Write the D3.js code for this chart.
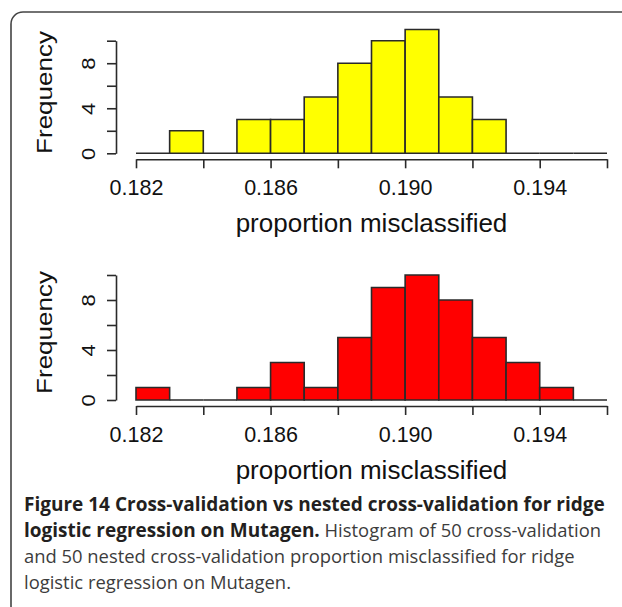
<!DOCTYPE html>
<html><head><meta charset="utf-8">
<script src="https://cdn.jsdelivr.net/npm/d3@7"></script>
<style>body{margin:0;background:#fff} svg{display:block}</style></head>
<body>
<svg id="c" width="622" height="607"></svg>
<script>
// ---- data ----
const binEdges = [0.182,0.183,0.184,0.185,0.186,0.187,0.188,0.189,0.190,0.191,0.192,0.193,0.194,0.195,0.196];
const cvCounts = [0,2,0,3,3,5,8,10,11,5,3,0,0,0];
const nestedCounts = [1,0,0,1,3,1,5,9,10,8,5,3,1,0];
const xTicks = [0.182,0.184,0.186,0.188,0.190,0.192,0.194,0.196];
const xTickLabels = ["0.182","","0.186","","0.190","","0.194",""];
const yTicks = [0,2,4,6,8,10];
const yTickLabels = ["0","","4","","8",""];
const xLabel = "proportion misclassified";
const yLabel = "Frequency";
const captionLines = [
  [["Figure 14 Cross-validation vs nested cross-validation for ridge", true]],
  [["logistic regression on Mutagen.", true], [" Histogram of 50 cross-validation", false]],
  [["and 50 nested cross-validation proportion misclassified for ridge", false]],
  [["logistic regression on Mutagen.", false]]
];

// ---- drawing ----
const svg = d3.select("#c");
svg.append("rect").attr("x",11).attr("y",12).attr("width",640).attr("height",606)
  .attr("rx",12).attr("fill","none").attr("stroke","#444").attr("stroke-width",1.6);

const x = d3.scaleLinear().domain([0.182,0.196]).range([136,607]);
const panels = [
  {counts: cvCounts, fill: "#ffff00", y0: 153.3, y10: 40.7},
  {counts: nestedCounts, fill: "#ff0000", y0: 400, y10: 275}
];
const axisFont = "'Liberation Sans', Arial, sans-serif";
const ink = "#2a2a2a";

panels.forEach(p => {
  const y = d3.scaleLinear().domain([0,10]).range([p.y0, p.y10]);
  const g = svg.append("g");
  g.selectAll("path.bar").data(p.counts).join("path").attr("class","bar")
    .attr("d", (c,i) => {
      const x0 = x(binEdges[i]), x1 = x(binEdges[i+1]);
      return `M${x0},${y(0)}V${y(c)}H${x1}V${y(0)}Z`;
    })
    .attr("fill", p.fill).attr("stroke", ink).attr("stroke-width", 1.6);

  const ax = g.append("g").attr("transform", `translate(0,${p.y0 + 6})`)
    .call(d3.axisBottom(x).tickValues(xTicks).tickFormat((d,i) => xTickLabels[i])
      .tickSize(9).tickSizeOuter(0).tickPadding(0));
  ax.selectAll("path,line").attr("stroke", ink).attr("stroke-width", 1.6);
  ax.selectAll("text").attr("dy", null).attr("y", 36).attr("fill", "#111")
    .style("font-family", axisFont).style("font-size", "21.5px");

  const ay = g.append("g").attr("transform", "translate(116,0)")
    .call(d3.axisLeft(y).tickValues(yTicks).tickFormat((d,i) => yTickLabels[i])
      .tickSize(9).tickSizeOuter(0));
  ay.selectAll("path,line").attr("stroke", ink).attr("stroke-width", 1.6);
  ay.selectAll("text").attr("x", 0).attr("y", 0).attr("dy", null)
    .attr("text-anchor", "middle").attr("fill", "#111")
    .attr("transform", "translate(-21,0) scale(0.82,1) rotate(-90)")
    .style("font-family", axisFont).style("font-size", "22px");

  g.append("text").text(xLabel).attr("x", (x.range()[0] + x.range()[1]) / 2)
    .attr("y", p.y0 + 79).attr("text-anchor", "middle").attr("fill", "#111")
    .style("font-family", axisFont).style("font-size", "26px");

  g.append("text").text(yLabel).attr("text-anchor", "middle").attr("fill", "#111")
    .attr("transform", `translate(51.5,${y(5.4)}) scale(0.86,1) rotate(-90)`)
    .style("font-family", axisFont).style("font-size", "26px");
});

const capY = [511, 537, 563, 589];
captionLines.forEach((line, li) => {
  const t = svg.append("text").attr("x", 24).attr("y", capY[li])
    .style("font-family", "'Open Sans', sans-serif");
  line.forEach(([s, bold]) => {
    t.append("tspan").text(s).attr("font-weight", bold ? 700 : 400)
      .style("font-size", bold ? "19px" : "18.4px")
      .attr("fill", bold ? "#231f20" : "#3c3c3c");
  });
});
</script>
</body></html>
